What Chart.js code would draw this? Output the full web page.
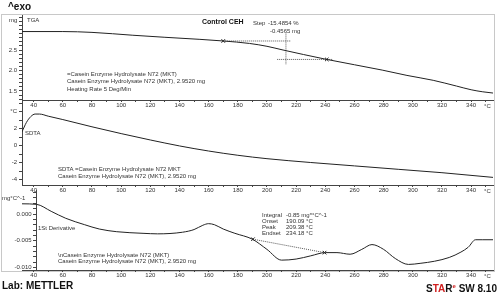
<!DOCTYPE html>
<html>
<head>
<meta charset="utf-8">
<script src="https://cdn.jsdelivr.net/npm/chart.js@4.4.1/dist/chart.umd.min.js"></script>
<style>
  body { margin: 0; background: #fff; font-family: "Liberation Sans", Arial, sans-serif; }
  #wrap { position: relative; width: 500px; height: 293px; overflow: hidden; }
  canvas { position: absolute; left: 0; }
  .t { position: absolute; font-size: 6px; line-height: 6px; color: #333; white-space: nowrap; }
  .frame { position: absolute; left: 1px; top: 14px; width: 492px; height: 256px; border: 1px solid #c8c8c8; }
  .big { position: absolute; font-size: 10px; line-height: 10px; font-weight: bold; color: #111; white-space: nowrap; }
  .red { color: #d02020; }
</style>
</head>
<body>
<div id="wrap">
  <div class="frame"></div>
  <canvas id="tga" width="500" height="112" style="top:0"></canvas>
  <canvas id="sdta" width="500" height="97" style="top:100px"></canvas>
  <canvas id="dtg" width="500" height="97" style="top:185px"></canvas>

  <div class="big" style="left:8px;top:2px;">^exo</div>

  <div class="t" style="left:9px;top:17px;">mg</div>
  <div class="t" style="left:27px;top:17px;">TGA</div>
  <div class="t" style="left:202px;top:18px;font-size:7px;line-height:7px;font-weight:bold;color:#111;">Control CEH</div>
  <div class="t" style="left:253px;top:20px;">Step</div>
  <div class="t" style="left:268px;top:20px;">-15.4854 %</div>
  <div class="t" style="left:270px;top:28px;">-0.4565 mg</div>
  <div class="t" style="left:67px;top:71px;">=Casein Enzyme Hydrolysate N72 (MKT)</div>
  <div class="t" style="left:67px;top:78px;">Casein Enzyme Hydrolysate N72 (MKT), 2.9520 mg</div>
  <div class="t" style="left:67px;top:86px;">Heating Rate 5 Deg/Min</div>
  <div class="t" style="left:484px;top:103px;">°C</div>

  <div class="t" style="left:25px;top:130px;">SDTA</div>
  <div class="t" style="left:58px;top:166px;">SDTA =Casein Enzyme Hydrolysate N72 MKT</div>
  <div class="t" style="left:58px;top:173px;">Casein Enzyme Hydrolysate N72 (MKT), 2.9520 mg</div>
  <div class="t" style="left:484px;top:188px;">°C</div>

  <div class="t" style="left:2px;top:195px;">mg°C^-1</div>
  <div class="t" style="left:38px;top:225px;">1St Derivative</div>
  <div class="t" style="left:262px;top:212px;">Integral</div>
  <div class="t" style="left:286px;top:212px;">-0.85 mg*°C^-1</div>
  <div class="t" style="left:262px;top:218px;">Onset</div>
  <div class="t" style="left:286px;top:218px;">190.09 °C</div>
  <div class="t" style="left:262px;top:224px;">Peak</div>
  <div class="t" style="left:286px;top:224px;">209.38 °C</div>
  <div class="t" style="left:262px;top:230px;">Endset</div>
  <div class="t" style="left:286px;top:230px;">234.18 °C</div>
  <div class="t" style="left:58px;top:252px;">\nCasein Enzyme Hydrolysate N72 (MKT)</div>
  <div class="t" style="left:58px;top:258px;">Casein Enzyme Hydrolysate N72 (MKT), 2.9520 mg</div>
  <div class="t" style="left:484px;top:273px;">°C</div>

  <div class="big" style="left:2px;top:281px;">Lab: METTLER</div>
  <div class="big" style="right:3px;top:281px;">S<span class="red">TA</span>R<sup class="red" style="font-size:6px;">e</sup> SW 8.10</div>
</div>

<script>
// temperature range of the run (°C)
const tMin = 32;
const tMax = 355;
const xLabelTicks = [40, 60, 80, 100, 120, 140, 160, 180, 200, 220, 240, 260, 280, 300, 320, 340];

// TGA curve (mg)
const tgaTemp = [32, 60, 80, 108, 130, 154, 170, 188, 200, 211, 225, 241, 260, 279, 296, 314, 330, 340, 348, 355];
const tgaMass = [2.95, 2.95, 2.93, 2.86, 2.81, 2.76, 2.72, 2.66, 2.59, 2.50, 2.39, 2.27, 2.14, 2.01, 1.88, 1.76, 1.62, 1.53, 1.48, 1.45];
const tgaMajor = [1.5, 2.0, 2.5];

// step evaluation marks on the TGA
const stepTemp = [170, 241];
const stepMass = [2.72, 2.27];

// SDTA curve (°C)
const sdtaTemp = [32, 35, 38, 41, 44, 50, 60, 80, 100, 120, 140, 160, 180, 200, 230, 260, 290, 320, 355];
const sdtaDelta = [1.6, 2.7, 3.4, 3.7, 3.7, 3.45, 3.05, 2.2, 1.4, 0.65, -0.05, -0.65, -1.15, -1.55, -2.0, -2.4, -2.8, -3.2, -3.75];
const sdtaMajor = [-4, -2, 0, 2, 4];

// 1st derivative (mg/°C)
const dtgTemp = [32, 42, 52, 62, 75, 85, 97, 115, 125, 142, 150, 156, 160, 164, 170, 178, 190, 200, 210, 220, 230, 240, 248, 257, 265, 272, 280, 288, 297, 305, 315, 325, 333, 338, 343, 348, 355];
const dtgRate = [0.0019, 0.0018, 0.0005, -0.0008, -0.0020, -0.0028, -0.0033, -0.0036, -0.0037, -0.0034, -0.0029, -0.0021, -0.0018, -0.0020, -0.0028, -0.0036, -0.0047, -0.0066, -0.0086, -0.0084, -0.0078, -0.0072, -0.0072, -0.0075, -0.0066, -0.0057, -0.0066, -0.0083, -0.0094, -0.0092, -0.0088, -0.0081, -0.0071, -0.0062, -0.0048, -0.0048, -0.0048];
const dtgMajor = [-0.010, -0.005, 0.000];

// integral limits on the derivative
const peakTemp = [190.4, 239.5];
const peakRate = [-0.0047, -0.0072];

const fontFam = '"Liberation Sans", Arial, sans-serif';
const ink = '#222';

function pts(xs, ys) {
  return xs.map((x, i) => ({ x: x, y: ys[i] }));
}

function range(a, b, step) {
  const out = [];
  for (let v = a; v <= b + step / 2; v += step) out.push(Math.round(v / step) * step);
  return out;
}

function curve(data) {
  return { data: data, borderColor: ink, borderWidth: 1, pointRadius: 0, cubicInterpolationMode: 'monotone', fill: false };
}

function dotted(data) {
  return { data: data, borderColor: '#555', borderWidth: 1, borderDash: [1, 1], pointRadius: 0, fill: false };
}

function marks(data) {
  return { data: data, showLine: false, pointStyle: 'crossRot', pointRadius: 2.5, pointBorderColor: ink, pointBorderWidth: 1 };
}

// y labels drawn by hand, right aligned left of the y axis line
const yLabelPlugin = {
  id: 'yLabels',
  afterDraw(chart, args, o) {
    const ctx = chart.ctx;
    const xPix = chart.scales.x.getPixelForValue(o.axisAt) - 5;
    ctx.save();
    ctx.font = '6px ' + fontFam;
    ctx.fillStyle = '#333';
    ctx.textAlign = 'right';
    ctx.textBaseline = 'middle';
    o.major.forEach(m => {
      ctx.fillText(o.fmt(m), xPix, chart.scales.y.getPixelForValue(m));
    });
    ctx.restore();
  }
};

function makePanel(id, opts) {
  return new Chart(document.getElementById(id), {
    type: 'line',
    data: { datasets: opts.datasets },
    plugins: [yLabelPlugin],
    options: {
      responsive: false,
      animation: false,
      layout: { padding: { left: 22, right: 7, top: opts.padTop, bottom: 0 } },
      plugins: {
        legend: { display: false },
        tooltip: { enabled: false },
        yLabels: { axisAt: opts.axisAt, major: opts.major, fmt: opts.fmt }
      },
      scales: {
        x: {
          type: 'linear', min: tMin, max: tMax, position: 'bottom',
          afterFit: s => { s.height = 12; },
          afterBuildTicks: s => { s.ticks = range(40, 350, 10).map(v => ({ value: v })); },
          ticks: {
            autoSkip: false, maxRotation: 0, padding: 0, color: '#333',
            font: { size: 6, family: fontFam },
            callback: v => xLabelTicks.includes(v) ? String(v) : ''
          },
          grid: { drawOnChartArea: false, tickLength: 2, color: '#444' },
          border: { color: '#444' }
        },
        y: {
          type: 'linear', min: opts.yMin, max: opts.yMax, position: { x: opts.axisAt },
          afterFit: s => { s.width = 0; },
          afterBuildTicks: s => { s.ticks = opts.minor.map(v => ({ value: v })); },
          ticks: { display: false },
          grid: { drawOnChartArea: false, tickLength: 3, color: '#444' },
          border: { color: '#444' }
        }
      }
    }
  });
}

makePanel('tga', {
  padTop: 15, yMin: 1.28, yMax: 3.354, axisAt: tMin,
  major: tgaMajor, minor: range(1.3, 3.3, 0.1),
  fmt: m => m.toFixed(1),
  datasets: [
    curve(pts(tgaTemp, tgaMass)),
    dotted([{ x: stepTemp[0], y: stepMass[0] }, { x: 216, y: stepMass[0] }]),
    dotted([{ x: 213, y: 2.90 }, { x: 213, y: 2.15 }]),
    dotted([{ x: 207, y: stepMass[1] }, { x: 245, y: stepMass[1] }]),
    marks(pts(stepTemp, stepMass))
  ]
});

makePanel('sdta', {
  padTop: 0, yMin: -4.647, yMax: 5.353, axisAt: tMin,
  major: sdtaMajor, minor: range(-4, 5, 1),
  fmt: m => m === 4 ? '°C' : String(m),
  datasets: [curve(pts(sdtaTemp, sdtaDelta))]
});

makePanel('dtg', {
  padTop: 0, yMin: -0.010439, yMax: 0.004474, axisAt: 42,
  major: dtgMajor, minor: range(-0.010, 0.004, 0.001),
  fmt: m => m.toFixed(3),
  datasets: [
    curve(pts(dtgTemp, dtgRate)),
    dotted(pts(peakTemp, peakRate)),
    marks(pts(peakTemp, peakRate))
  ]
});
</script>
</body>
</html>
